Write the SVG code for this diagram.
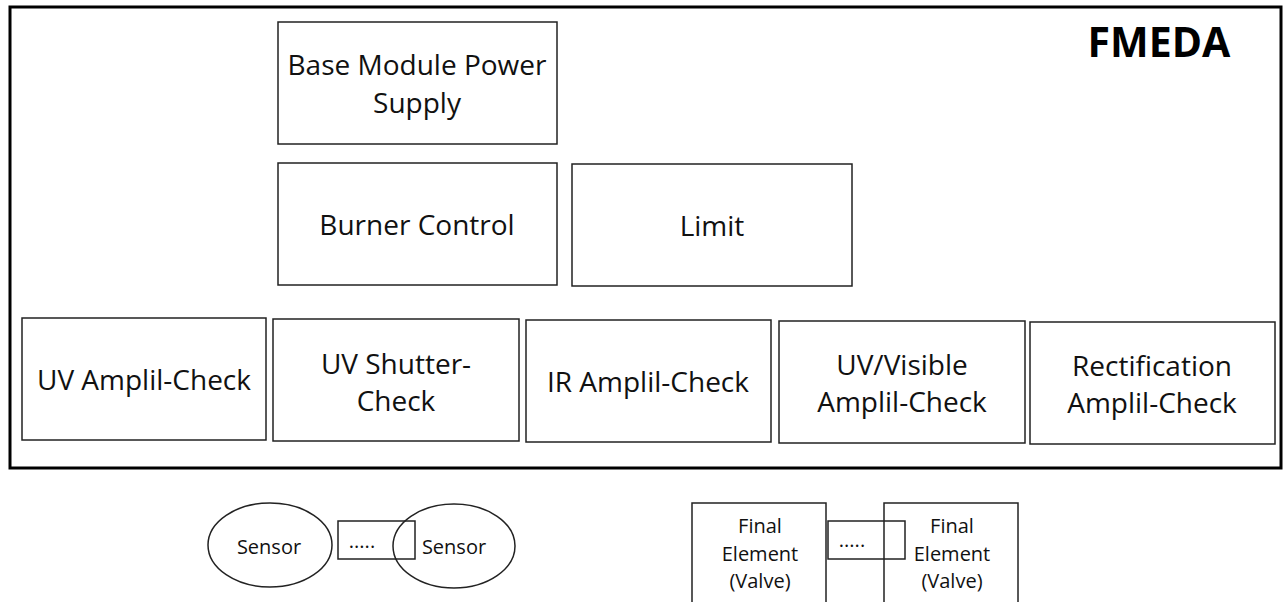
<svg xmlns="http://www.w3.org/2000/svg" width="1286" height="602" viewBox="0 0 1286 602">
  <style>
    .box { fill: none; stroke: #222; stroke-width: 1.5; }
    .frame { fill: none; stroke: #000; stroke-width: 3; }
    .lbl { font-family: "Open Sans", "Liberation Sans", sans-serif; font-size: 28px; fill: #111; text-anchor: middle; }
    .sm { font-family: "Open Sans", "Liberation Sans", sans-serif; font-size: 20px; fill: #111; text-anchor: middle; }
    .title { font-family: "Open Sans", "Liberation Sans", sans-serif; font-size: 41px; font-weight: bold; fill: #000; text-anchor: middle; }
  </style>
  <rect width="1286" height="602" fill="#fff"/>

  <!-- FMEDA boundary -->
  <g id="fmeda">
    <rect class="frame" x="10" y="7" width="1271" height="461"/>
    <text class="title" x="1159" y="57">FMEDA</text>
  </g>

  <g id="power-supply">
    <rect class="box" x="278" y="22" width="279" height="122"/>
    <text class="lbl" x="417" y="75">Base Module Power</text>
    <text class="lbl" x="417" y="113">Supply</text>
  </g>

  <g id="burner-control">
    <rect class="box" x="278" y="163" width="279" height="122"/>
    <text class="lbl" x="417" y="235">Burner Control</text>
  </g>

  <g id="limit">
    <rect class="box" x="572" y="164" width="280" height="122"/>
    <text class="lbl" x="712" y="236">Limit</text>
  </g>

  <g id="uv-amp">
    <rect class="box" x="22" y="318" width="244" height="122"/>
    <text class="lbl" x="144" y="390">UV Amplil-Check</text>
  </g>

  <g id="uv-shutter">
    <rect class="box" x="273" y="319" width="246" height="122"/>
    <text class="lbl" x="396" y="374">UV Shutter-</text>
    <text class="lbl" x="396" y="411">Check</text>
  </g>

  <g id="ir-amp">
    <rect class="box" x="526" y="320" width="245" height="122"/>
    <text class="lbl" x="648" y="392">IR Amplil-Check</text>
  </g>

  <g id="uv-visible">
    <rect class="box" x="779" y="321" width="246" height="122"/>
    <text class="lbl" x="902" y="375">UV/Visible</text>
    <text class="lbl" x="902" y="412">Amplil-Check</text>
  </g>

  <g id="rectification">
    <rect class="box" x="1030" y="322" width="245" height="122"/>
    <text class="lbl" x="1152" y="376">Rectification</text>
    <text class="lbl" x="1152" y="413">Amplil-Check</text>
  </g>

  <!-- field devices below the logic solver -->
  <g id="sensor-1">
    <ellipse class="box" cx="270" cy="545" rx="62" ry="42"/>
    <text class="sm" x="269" y="554">Sensor</text>
  </g>

  <g id="sensor-gap">
    <rect class="box" x="338" y="521" width="77" height="38"/>
    <text class="sm" x="362" y="548">.....</text>
  </g>

  <g id="sensor-2">
    <ellipse class="box" cx="454" cy="546" rx="61" ry="42"/>
    <text class="sm" x="454" y="554">Sensor</text>
  </g>

  <g id="valve-1">
    <rect class="box" x="692" y="503" width="134" height="110"/>
    <text class="sm" x="760" y="533">Final</text>
    <text class="sm" x="760" y="561">Element</text>
    <text class="sm" x="760" y="588">(Valve)</text>
  </g>

  <g id="valve-gap">
    <rect class="box" x="828" y="521" width="77" height="38"/>
    <text class="sm" x="852" y="547">.....</text>
  </g>

  <g id="valve-2">
    <rect class="box" x="884" y="503" width="134" height="110"/>
    <text class="sm" x="952" y="533">Final</text>
    <text class="sm" x="952" y="561">Element</text>
    <text class="sm" x="952" y="588">(Valve)</text>
  </g>

  <g id="connectors"/>
</svg>
